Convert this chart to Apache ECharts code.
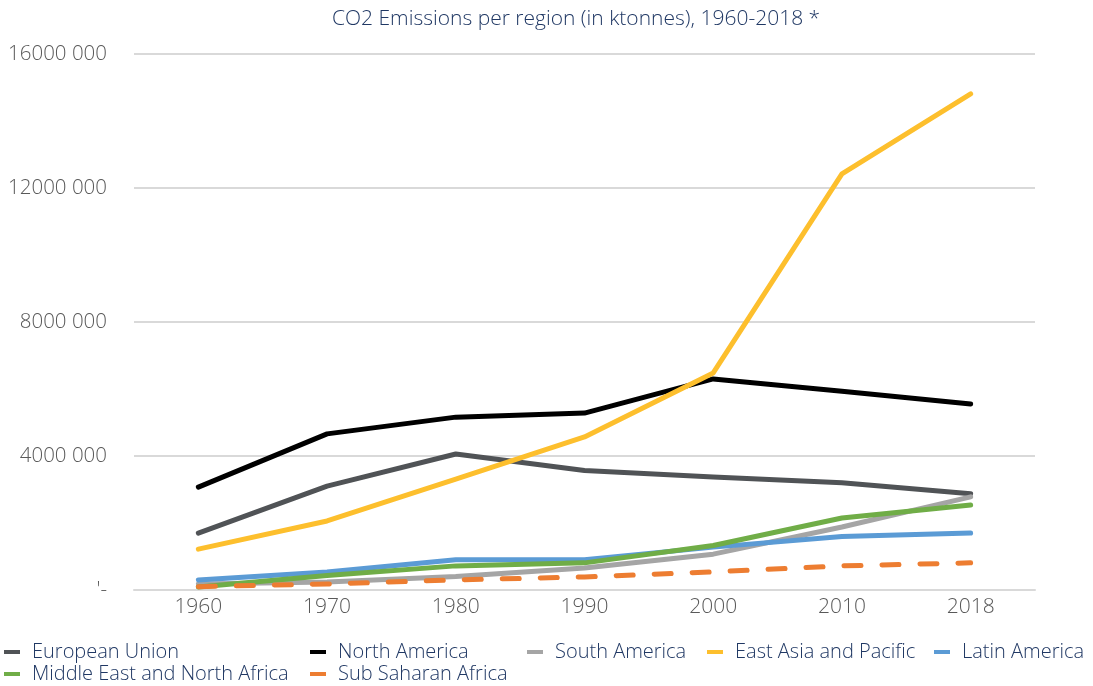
<!DOCTYPE html>
<html>
<head>
<meta charset="utf-8">
<script src="https://cdn.jsdelivr.net/npm/echarts@6/dist/echarts.min.js"></script>
<style>
html,body{margin:0;padding:0;background:#fff;}
#c{width:1093px;height:686px;}
</style>
</head>
<body>
<div id="c"></div>
<script>
const years = ['1960','1970','1980','1990','2000','2010','2018'];
const europeanUnion = [1700000, 3100000, 4060000, 3570000, 3370000, 3200000, 2870000];
const northAmerica = [3070000, 4660000, 5160000, 5280000, 6300000, 5930000, 5550000];
const southAmerica = [180000, 240000, 400000, 660000, 1070000, 1880000, 2780000];
const eastAsiaPacific = [1220000, 2060000, 3310000, 4570000, 6480000, 12420000, 14810000];
const latinAmerica = [300000, 540000, 900000, 900000, 1280000, 1600000, 1700000];
const middleEastNorthAfrica = [90000, 430000, 720000, 810000, 1330000, 2150000, 2540000];
const subSaharanAfrica = [100000, 180000, 300000, 390000, 540000, 720000, 810000];

const seriesNames = ['European Union','North America','South America','East Asia and Pacific','Latin America','Middle East and North Africa','Sub Saharan Africa'];
const seriesData = [europeanUnion, northAmerica, southAmerica, eastAsiaPacific, latinAmerica, middleEastNorthAfrica, subSaharanAfrica];
const colors = ['#505356','#000000','#A5A5A5','#FDBF2D','#5B9BD5','#70AD47','#ED7D31'];

const FONT = '"Open Sans", sans-serif';
const WEIGHT = 300;
const navy = '#203864';

const legendTextLeft = [32, 338, 555, 735, 962, 32, 338];
const legendTop = [642, 642, 642, 642, 642, 664, 664];

const chart = echarts.init(document.getElementById('c'));
chart.setOption({
  animation: false,
  backgroundColor: '#ffffff',
  title: {
    text: 'CO2 Emissions per region (in ktonnes), 1960-2018 *',
    left: 327, top: 4,
    textStyle: {color: navy, fontFamily: FONT, fontWeight: WEIGHT, fontSize: 21}
  },
  legend: seriesNames.map((n, i) => ({
    data: [n],
    left: legendTextLeft[i] - 28, top: legendTop[i],
    icon: 'rect', itemWidth: 16, itemHeight: 4,
    padding: 0,
    textStyle: {color: navy, fontFamily: FONT, fontWeight: WEIGHT, fontSize: 20, padding: [0,0,0,7]}
  })),
  grid: {left: 134, right: 58, top: 54, bottom: 96, containLabel: false},
  xAxis: {
    type: 'category', data: years, boundaryGap: true,
    axisTick: {show: false},
    axisLine: {lineStyle: {color: '#D9D9D9', width: 2}},
    axisLabel: {color: '#595959', fontFamily: FONT, fontWeight: WEIGHT, fontSize: 21, margin: 7}
  },
  yAxis: {
    type: 'value', min: 0, max: 16000000, interval: 4000000,
    axisLine: {show: false}, axisTick: {show: false},
    splitLine: {lineStyle: {color: '#D9D9D9', width: 2}},
    axisLabel: {
      color: '#595959', fontFamily: FONT, fontWeight: WEIGHT, fontSize: 20.5, margin: 27,
      formatter: v => v === 0 ? "'-" : (Math.round(v / 1000)) + ' 000'
    }
  },
  series: seriesNames.map((n, i) => ({
    name: n, type: 'line', data: seriesData[i],
    symbol: 'none', smooth: false,
    color: colors[i],
    lineStyle: {
      color: colors[i], width: 5, cap: 'round', join: 'round',
      type: i === 6 ? [17, 21] : 'solid'
    }
  }))
});
</script>
</body>
</html>
